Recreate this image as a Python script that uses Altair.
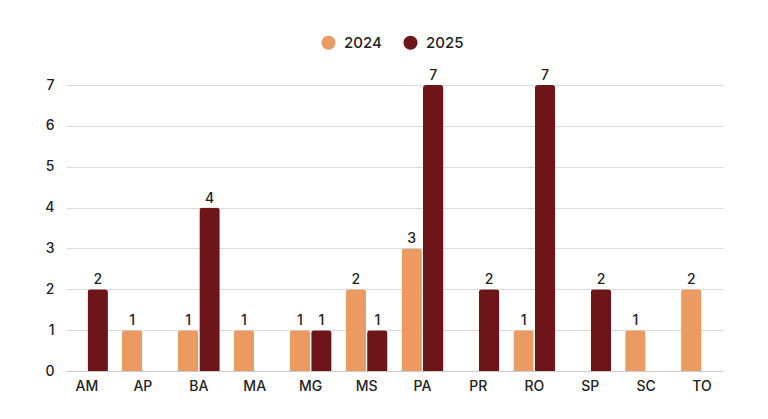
import altair as alt
import pandas as pd

estados = ["AM", "AP", "BA", "MA", "MG", "MS", "PA", "PR", "RO", "SP", "SC", "TO"]
v2024 = [0, 1, 1, 1, 1, 2, 3, 0, 1, 0, 1, 2]
v2025 = [2, 0, 4, 0, 1, 1, 7, 2, 7, 2, 0, 0]
anos = ["2024", "2025"]
cores = ["#EB9A62", "#6E1519"]

rows = []
for i, e in enumerate(estados):
    rows.append({"estado": e, "ano": "2024", "valor": v2024[i]})
    rows.append({"estado": e, "ano": "2025", "valor": v2025[i]})
df = pd.DataFrame(rows)
df = df[df["valor"] > 0]

FONT = "Inter"

xscale = alt.Scale(domain=estados, paddingInner=0.25, paddingOuter=0)
x = alt.X("estado:N", sort=estados, title=None, scale=xscale,
          axis=alt.Axis(labelAngle=0, labelFontSize=14, labelColor="#222222",
                        labelFont=FONT, labelFontWeight=500, ticks=False,
                        domainColor="#cccccc", labelPadding=8, grid=False))
xo = alt.XOffset("ano:N", scale=alt.Scale(domain=anos, paddingInner=0.05))
yscale = alt.Scale(domain=[0, 7], nice=False)
y = alt.Y("valor:Q", title=None, scale=yscale,
          axis=alt.Axis(values=list(range(8)), tickCount=8, labelFontSize=14,
                        labelColor="#222222", labelFont=FONT, labelFontWeight=500,
                        ticks=False, domain=False, gridColor="#d9d9d9",
                        labelPadding=12, format="d"))
color = alt.Color("ano:N", scale=alt.Scale(domain=anos, range=cores),
                  legend=alt.Legend(title=None, orient="none", direction="horizontal",
                                    legendX=255, legendY=-50, symbolType="circle",
                                    symbolSize=200, symbolStrokeWidth=0,
                                    labelFontSize=15, labelFont=FONT,
                                    labelFontWeight=500, labelColor="#222222",
                                    labelOffset=8, columnPadding=21))

bars = alt.Chart(df).mark_bar(cornerRadiusTopLeft=3, cornerRadiusTopRight=3).encode(
    x=x, xOffset=xo, y=y, color=color)

text = alt.Chart(df).mark_text(dy=-9, fontSize=14, font=FONT, fontWeight=500,
                               color="#222222").encode(
    x=x, xOffset=xo, y=y,
    text=alt.Text("valor:Q", format="d"))

chart = alt.layer(bars, text).properties(
    width=657, height=286,
    background="white",
    autosize=alt.AutoSizeParams(type="none"),
    padding={"left": 58, "top": 77, "right": 37, "bottom": 40},
).configure_view(stroke=None).configure_axisX(grid=False)

chart.save("out.html", embed_options={"renderer": "svg", "actions": False})
